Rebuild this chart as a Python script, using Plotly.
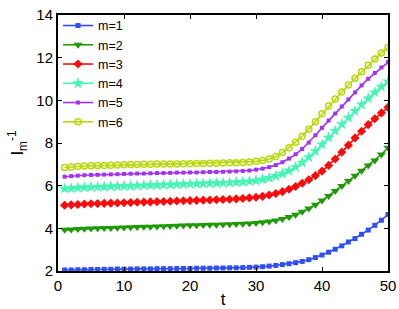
import plotly.graph_objects as go

t = list(range(1, 51))

m1 = [2.05,2.05,2.06,2.06,2.07,2.07,2.08,2.08,2.09,2.09,
      2.09,2.10,2.10,2.10,2.11,2.11,2.11,2.12,2.12,2.12,
      2.13,2.13,2.13,2.14,2.14,2.15,2.15,2.16,2.17,2.18,
      2.20,2.23,2.26,2.30,2.34,2.39,2.45,2.53,2.63,2.75,
      2.88,3.02,3.18,3.36,3.52,3.72,3.92,4.14,4.38,4.65]
m2 = [3.93,3.95,3.97,3.98,3.99,4.00,4.01,4.02,4.03,4.04,
      4.05,4.06,4.07,4.08,4.09,4.10,4.11,4.12,4.13,4.14,
      4.15,4.16,4.17,4.17,4.18,4.19,4.20,4.21,4.23,4.25,
      4.28,4.32,4.37,4.44,4.53,4.64,4.78,4.93,5.10,5.30,
      5.52,5.75,5.98,6.22,6.46,6.70,6.94,7.18,7.46,7.78]
m3 = [5.08,5.10,5.12,5.14,5.15,5.16,5.17,5.18,5.19,5.20,
      5.21,5.22,5.23,5.24,5.25,5.26,5.27,5.28,5.29,5.30,
      5.31,5.32,5.33,5.34,5.35,5.36,5.38,5.40,5.43,5.46,
      5.50,5.56,5.63,5.72,5.83,5.96,6.11,6.28,6.47,6.68,
      6.95,7.25,7.57,7.90,8.24,8.55,8.86,9.14,9.41,9.67]
m4 = [5.86,5.88,5.90,5.92,5.93,5.94,5.95,5.96,5.97,5.98,
      5.99,6.00,6.01,6.02,6.03,6.04,6.05,6.06,6.07,6.08,
      6.09,6.10,6.11,6.12,6.13,6.14,6.16,6.18,6.20,6.24,
      6.29,6.36,6.45,6.56,6.70,6.87,7.08,7.33,7.62,7.93,
      8.25,8.57,8.88,9.19,9.50,9.80,10.09,10.37,10.64,10.89]
m5 = [6.42,6.45,6.47,6.49,6.50,6.51,6.52,6.53,6.54,6.55,
      6.56,6.57,6.57,6.58,6.59,6.59,6.60,6.61,6.61,6.62,
      6.62,6.63,6.64,6.64,6.65,6.66,6.67,6.69,6.71,6.75,
      6.80,6.87,6.97,7.10,7.27,7.47,7.72,8.02,8.36,8.71,
      9.05,9.38,9.71,10.04,10.37,10.70,11.01,11.28,11.54,11.78]
m6 = [6.85,6.88,6.90,6.92,6.93,6.94,6.95,6.96,6.97,6.98,
      6.99,6.99,7.00,7.00,7.01,7.01,7.02,7.02,7.03,7.03,
      7.04,7.04,7.05,7.05,7.06,7.07,7.08,7.09,7.11,7.14,
      7.18,7.25,7.37,7.55,7.78,8.03,8.32,8.65,9.00,9.37,
      9.73,10.06,10.39,10.72,11.03,11.34,11.65,11.94,12.22,12.48]

names = ["m=1", "m=2", "m=3", "m=4", "m=5", "m=6"]
series = [m1, m2, m3, m4, m5, m6]
colors = ["#2f4ff5", "#1f9a06", "#ff0a0a", "#45f5b4", "#a232f5", "#b8d80a"]
symbols = ["square", "triangle-down", "diamond", "star", "square", "circle-open"]
sizes = [5, 8, 7, 9, 4, 6]

fig = go.Figure()
for nm, ys, c, s, sz in zip(names, series, colors, symbols, sizes):
    fig.add_trace(go.Scatter(
        x=t, y=ys, name=nm, mode="lines+markers",
        line=dict(color=c, width=1.6),
        marker=dict(symbol=s, size=sz, color=c, line=dict(color=c, width=1.5 if s == "circle-open" else 0)),
    ))

FONT = "Liberation Sans, Arial, Helvetica"
axis_common = dict(
    showgrid=False, zeroline=False, showline=True, linecolor="black", linewidth=2,
    mirror="ticks", ticks="inside", ticklen=4, tickcolor="black", tickwidth=1,
    tickfont=dict(family=FONT, size=15, color="black"), automargin=False,
)

fig.update_layout(
    width=399, height=309,
    margin=dict(l=58, r=11, t=11, b=38),
    paper_bgcolor="white", plot_bgcolor="white",
    showlegend=True,
    legend=dict(x=0.0, y=1.016, xanchor="left", yanchor="top",
                bgcolor="rgba(0,0,0,0)", borderwidth=0,
                font=dict(family=FONT, size=12.5, color="black"),
                itemwidth=30, tracegroupgap=0),
    xaxis=dict(range=[0, 50], tickvals=[0, 10, 20, 30, 40, 50],
               title=dict(text="t", font=dict(family=FONT, size=17, color="black"), standoff=0),
               **axis_common),
    yaxis=dict(range=[2, 14], tickvals=[2, 4, 6, 8, 10, 12, 14],
               title=dict(text="I<sub>m</sub><sup>-1</sup>", font=dict(family=FONT, size=17, color="black"), standoff=8),
               **axis_common),
)

fig.write_html("out.html", config={"displayModeBar": False},
               post_script="document.body.style.margin='0';document.body.style.overflow='hidden';")
